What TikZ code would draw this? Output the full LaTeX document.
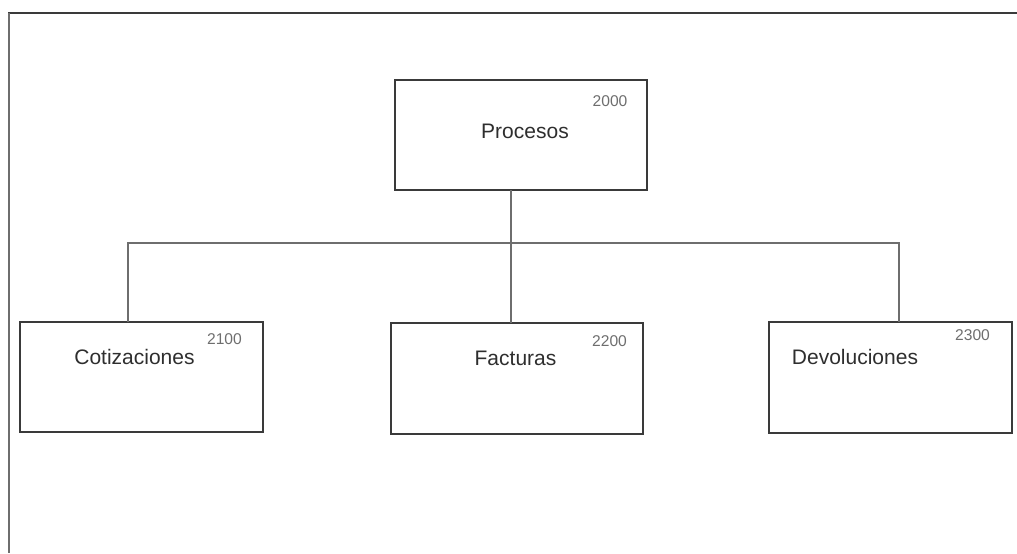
\documentclass[tikz,border=0pt]{standalone}
\usepackage{fontspec}
\setmainfont{Liberation Sans}
\definecolor{trazo}{HTML}{3A3A3A}
\definecolor{linea}{HTML}{6E6E6E}
\definecolor{texto}{HTML}{2E2E2E}
\tikzset{
  caja/.style={draw=trazo, line width=1.2pt, inner sep=0pt, outer sep=0pt, minimum height=55pt},
  nombre/.style={text=texto, font=\fontsize{10.5}{12}\selectfont, inner sep=0pt},
  codigo/.style={text=linea, font=\fontsize{7.8}{9}\selectfont, inner sep=0pt},
  rama/.style={draw=linea, line width=0.7pt}
}
\begin{document}
\begin{tikzpicture}[x=0.5pt, y=-0.5pt]
    \useasboundingbox (0,0) rectangle (1017,553);
    \draw[trazo, line width=1.3pt] (8,13) -- (1017,13);
    \draw[linea, line width=0.8pt] (9,13) -- (9,553);
    \node[caja, minimum width=126pt] (proc) at (521,135) {};
    \node[caja, minimum width=121.5pt] (cot) at (141.5,377) {};
    \node[caja, minimum width=126pt, minimum height=55.5pt] (fac) at (517,378.5) {};
    \node[caja, minimum width=121.5pt, minimum height=55.5pt] (dev) at (890.5,377.5) {};
    \node[nombre] (tproc) at (525,131) {Procesos};
    \node[nombre] (tcot) at (134.5,357) {Cotizaciones};
    \node[nombre] (tfac) at (515.5,358) {Facturas};
    \node[nombre] (tdev) at (855,357) {Devoluciones};
    \node[codigo] (nproc) at (610,101) {2000};
    \node[codigo] (ncot) at (224.5,339) {2100};
    \node[codigo] (nfac) at (609.5,341) {2200};
    \node[codigo] (ndev) at (972.5,335) {2300};
    \coordinate (jc) at (128,243);
    \coordinate (jf) at (511,243);
    \coordinate (jd) at (899,243);
    \draw[rama] (jc |- cot.north) -- (jc) -- (jd) -- (jd |- dev.north);
    \draw[rama] (proc.south -| jf) -- (jf |- fac.north);
    \fill[linea] (jf) circle (1.2);
\end{tikzpicture}
\end{document}
